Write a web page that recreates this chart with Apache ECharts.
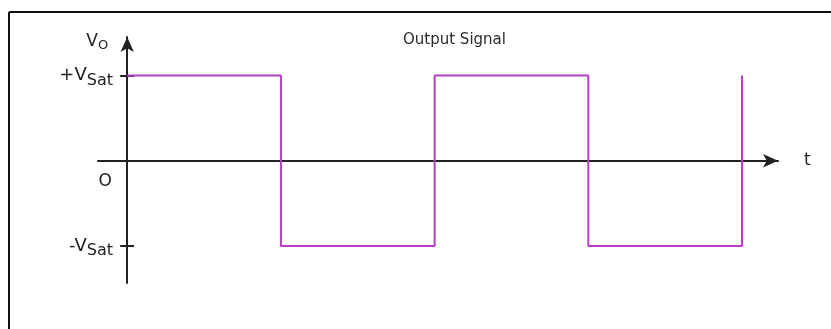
<!DOCTYPE html>
<html>
<head>
<meta charset="utf-8">
<script src="https://cdn.jsdelivr.net/npm/echarts@6/dist/echarts.min.js"></script>
<style>
  html, body { margin: 0; padding: 0; background: #fff; }
  #chart { width: 831px; height: 329px; }
</style>
</head>
<body>
<div id="chart"></div>
<script>
// square wave, time in half-periods
const timeSteps = [0, 1, 1, 2, 2, 3, 3, 4, 4]
const outputLevels = [1, 1, -1, -1, 1, 1, -1, -1, 1]
const levelTicks = [-1, 1]
const levelLabels = [-1, 0, 1]

const FONT = 'DejaVu Sans'
const INK = '#222'

const chart = echarts.init(document.getElementById('chart'))

const labelRich = {
  v: { fontSize: 18, fontFamily: FONT, color: INK },
  s: { fontSize: 16, fontFamily: FONT, color: INK, padding: [10, 0, 0, 0] },
  o: { fontSize: 17, fontFamily: FONT, color: INK, padding: [42, 1, 0, 0] },
}

function levelName(v) {
  if (v === 1) return '{v|+V}{s|Sat}'
  if (v === -1) return '{v|-V}{s|Sat}'
  return '{o|O}'
}

chart.setOption({
  animation: false,
  backgroundColor: '#fff',
  title: {
    text: 'Output Signal',
    left: 403,
    top: 33,
    padding: 0,
    textStyle: { fontSize: 15, fontWeight: 'normal', color: '#2a2a2a', fontFamily: FONT },
  },
  grid: { left: 98, right: 53, top: 37, bottom: 46 },
  xAxis: {
    type: 'value',
    min: -0.19,
    max: 4.234,
    name: 't',
    nameGap: 26,
    nameTextStyle: { fontSize: 17, fontFamily: FONT, color: INK, padding: [3, 0, 0, 0] },
    axisLine: {
      onZero: true,
      symbol: ['none', 'arrow'],
      symbolSize: [10, 15],
      lineStyle: { color: INK, width: 2 },
    },
    axisTick: { show: false },
    axisLabel: { show: false },
    splitLine: { show: false },
  },
  yAxis: [
    {
      type: 'value',
      min: -1.435,
      max: 1.453,
      name: 'V{s|O}',
      nameGap: -5,
      nameTextStyle: {
        align: 'right',
        verticalAlign: 'middle',
        padding: [0, 19, 0, 0],
        fontSize: 17,
        fontFamily: FONT,
        color: INK,
        rich: {
          s: { fontSize: 13, fontFamily: FONT, color: INK, padding: [8, 0, 0, 0] },
        },
      },
      axisLine: {
        onZero: true,
        symbol: ['none', 'arrow'],
        symbolSize: [10, 15],
        lineStyle: { color: INK, width: 2 },
      },
      axisTick: {
        show: true,
        customValues: levelTicks,
        length: 7,
        lineStyle: { color: INK, width: 2 },
      },
      axisLabel: {
        customValues: levelLabels,
        margin: -15,
        formatter: levelName,
        rich: labelRich,
      },
      splitLine: { show: false },
    },
    {
      type: 'value',
      min: -1.435,
      max: 1.453,
      position: 'left',
      offset: -29,
      axisLine: { show: false },
      axisTick: {
        show: true,
        inside: true,
        customValues: levelTicks,
        length: 7,
        lineStyle: { color: INK, width: 2 },
      },
      axisLabel: { show: false },
      splitLine: { show: false },
    },
  ],
  graphic: [
    { type: 'line', shape: { x1: 9, y1: 12, x2: 831, y2: 12 }, style: { stroke: '#111', lineWidth: 2 } },
    { type: 'line', shape: { x1: 9, y1: 12, x2: 9, y2: 329 }, style: { stroke: '#111', lineWidth: 2 } },
  ],
  series: [
    {
      type: 'line',
      data: timeSteps.map((t, i) => [t, outputLevels[i]]),
      showSymbol: false,
      lineStyle: { color: '#b83cc8', width: 2 },
      z: 3,
    },
  ],
})
</script>
</body>
</html>
